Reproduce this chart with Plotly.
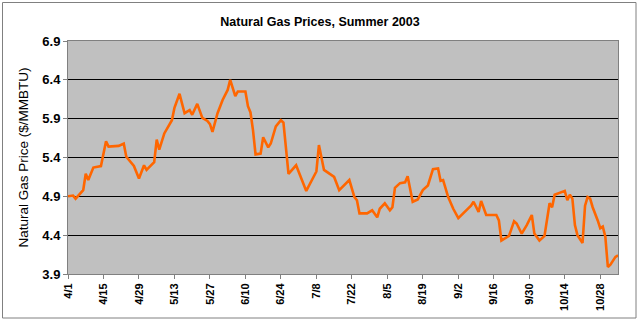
import plotly.graph_objects as go

dates = [
    "2003-04-01", "2003-04-03", "2003-04-04", "2003-04-06", "2003-04-07", "2003-04-08",
    "2003-04-09", "2003-04-11", "2003-04-14", "2003-04-16", "2003-04-17", "2003-04-21",
    "2003-04-23", "2003-04-24", "2003-04-27", "2003-04-29", "2003-05-01", "2003-05-02",
    "2003-05-05", "2003-05-06", "2003-05-07", "2003-05-09", "2003-05-12", "2003-05-13",
    "2003-05-15", "2003-05-17", "2003-05-19", "2003-05-20", "2003-05-22", "2003-05-24",
    "2003-05-26", "2003-05-27", "2003-05-28", "2003-05-30", "2003-06-01", "2003-06-03",
    "2003-06-04", "2003-06-06", "2003-06-07", "2003-06-10", "2003-06-11", "2003-06-12",
    "2003-06-13", "2003-06-14", "2003-06-16", "2003-06-17", "2003-06-19", "2003-06-20",
    "2003-06-22", "2003-06-24", "2003-06-25", "2003-06-26", "2003-06-27", "2003-06-30",
    "2003-07-04", "2003-07-08", "2003-07-09", "2003-07-11", "2003-07-14", "2003-07-15",
    "2003-07-17", "2003-07-20", "2003-07-21", "2003-07-23", "2003-07-24", "2003-07-25",
    "2003-07-28", "2003-07-30", "2003-08-01", "2003-08-02", "2003-08-04", "2003-08-06",
    "2003-08-07", "2003-08-08", "2003-08-10", "2003-08-12", "2003-08-13", "2003-08-15",
    "2003-08-17", "2003-08-19", "2003-08-21", "2003-08-23", "2003-08-25", "2003-08-26",
    "2003-08-27", "2003-08-29", "2003-08-31", "2003-09-02", "2003-09-05", "2003-09-07",
    "2003-09-08", "2003-09-10", "2003-09-11", "2003-09-13", "2003-09-17", "2003-09-18",
    "2003-09-19", "2003-09-22", "2003-09-24", "2003-09-25", "2003-09-27", "2003-09-29",
    "2003-10-01", "2003-10-02", "2003-10-04", "2003-10-06", "2003-10-08", "2003-10-09",
    "2003-10-10", "2003-10-13", "2003-10-14", "2003-10-15", "2003-10-16", "2003-10-17",
    "2003-10-18", "2003-10-19", "2003-10-21", "2003-10-22", "2003-10-23", "2003-10-24",
    "2003-10-25", "2003-10-27", "2003-10-28", "2003-10-29", "2003-10-30", "2003-10-31",
    "2003-11-01", "2003-11-03", "2003-11-04",
]
prices = [
    4.90, 4.91, 4.87, 4.94, 4.98, 5.19,
    5.11, 5.27, 5.29, 5.61, 5.54, 5.55,
    5.58, 5.41, 5.29, 5.13, 5.30, 5.24,
    5.34, 5.63, 5.50, 5.71, 5.88, 6.04,
    6.22, 5.97, 6.01, 5.95, 6.09, 5.91,
    5.87, 5.83, 5.73, 5.97, 6.14, 6.27,
    6.40, 6.19, 6.25, 6.25, 6.06, 5.98,
    5.75, 5.44, 5.45, 5.66, 5.53, 5.58,
    5.80, 5.88, 5.85, 5.52, 5.19, 5.30,
    4.97, 5.22, 5.56, 5.24, 5.17, 5.15,
    4.98, 5.08, 5.11, 4.89, 4.85, 4.68,
    4.68, 4.72, 4.63, 4.74, 4.81, 4.72,
    4.76, 5.01, 5.07, 5.08, 5.16, 4.83,
    4.86, 4.98, 5.04, 5.25, 5.26, 5.10,
    5.11, 4.89, 4.74, 4.62, 4.71, 4.78,
    4.83, 4.70, 4.84, 4.66, 4.66, 4.59,
    4.33, 4.39, 4.58, 4.55, 4.42, 4.53,
    4.66, 4.42, 4.33, 4.39, 4.81, 4.76,
    4.92, 4.96, 4.97, 4.85, 4.92, 4.87,
    4.53, 4.40, 4.30, 4.78, 4.89, 4.87,
    4.76, 4.59, 4.49, 4.51, 4.38, 3.99,
    4.02, 4.12, 4.14,
]

title_text = "Natural Gas Prices, Summer 2003"
y_title = "Natural Gas Price ($/MMBTU)"

W, H = 640, 322
ml, mr, mt, mb = 68, 22, 41, 48
pw, ph = W - ml - mr, H - mt - mb

fig = go.Figure()
fig.add_trace(go.Scatter(
    x=dates, y=prices, mode="lines",
    line=dict(color="#FF6600", width=2.6),
    hoverinfo="skip",
))

fnt = "Liberation Sans, Arial, sans-serif"
fig.update_layout(
    width=W, height=H,
    margin=dict(l=ml, r=mr, t=mt, b=mb),
    paper_bgcolor="white",
    plot_bgcolor="#C0C0C0",
    showlegend=False,
    font=dict(family=fnt, color="black"),
    title=dict(text="<b>" + title_text + "</b>", x=0.5, xanchor="center",
               y=1 - 22 / H, yanchor="middle", font=dict(size=12.5, family=fnt)),
    xaxis=dict(
        type="date",
        range=["2003-04-01", "2003-11-04"],
        tick0="2003-04-01", dtick=14 * 86400000,
        tickformat="%-m/%-d", tickangle=-90,
        tickfont=dict(size=11, family=fnt, weight="bold"),
        ticks="outside", ticklen=4, tickcolor="#808080",
        showgrid=False, showline=True, linecolor="#808080", linewidth=1,
        mirror=True, zeroline=False,
    ),
    yaxis=dict(
        range=[3.9, 6.9], dtick=0.5, tick0=3.9, tickformat=".1f",
        tickfont=dict(size=13, family=fnt, weight="bold"),
        ticks="outside", ticklen=4, tickcolor="#808080",
        showgrid=True, gridcolor="#000000", gridwidth=1,
        showline=True, linecolor="#808080", linewidth=1, mirror=True,
        zeroline=False,
        title=dict(text=y_title, font=dict(size=13.5, family=fnt), standoff=10),
    ),
)

# outer chart border
fig.add_shape(type="rect", xref="paper", yref="paper",
              x0=(2.5 - ml) / pw, x1=(636 - ml) / pw,
              y0=-(mb - 4) / ph,
              y1=1 + (mt - 2.5) / ph,
              line=dict(color="#808080", width=1), fillcolor="rgba(0,0,0,0)",
              layer="below")

fig.write_html("out.html")
